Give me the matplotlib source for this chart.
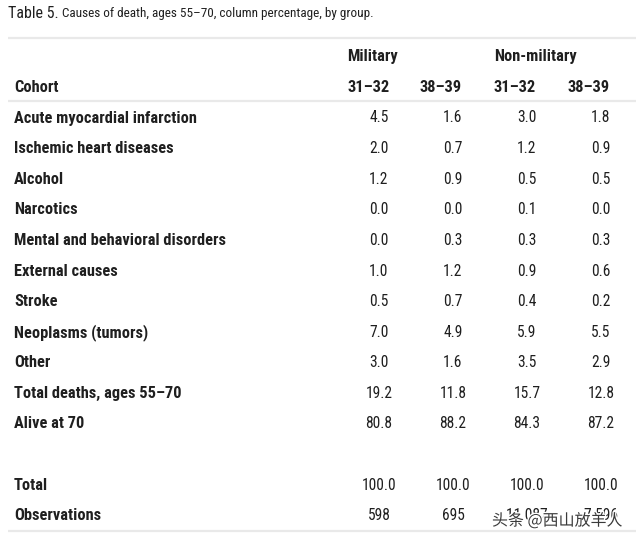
#!/usr/bin/python

"""
Table 5 redrawn with matplotlib text on a blank axes
"""

from matplotlib import pyplot as plt
from matplotlib import font_manager
import matplotlib.patheffects as pe

# table content
causes = [
    "Acute myocardial infarction",
    "Ischemic heart diseases",
    "Alcohol",
    "Narcotics",
    "Mental and behavioral disorders",
    "External causes",
    "Stroke",
    "Neoplasms (tumors)",
    "Other",
    "Total deaths, ages 55\u201370",
    "Alive at 70",
]
mil_31 = [4.5, 2.0, 1.2, 0.0, 0.0, 1.0, 0.5, 7.0, 3.0, 19.2, 80.8]
mil_38 = [1.6, 0.7, 0.9, 0.0, 0.3, 1.2, 0.7, 4.9, 1.6, 11.8, 88.2]
non_31 = [3.0, 1.2, 0.5, 0.1, 0.3, 0.9, 0.4, 5.9, 3.5, 15.7, 84.3]
non_38 = [1.8, 0.9, 0.5, 0.0, 0.3, 0.6, 0.2, 5.5, 2.9, 12.8, 87.2]

totals = [100.0, 100.0, 100.0, 100.0]
observations = [598, 695, 11087, 7596]

groups = ["Military", "Non-military"]
cohorts = ["31\u201332", "38\u201339", "31\u201332", "38\u201339"]

title_bold = "Table 5."
title_rest = "Causes of death, ages 55\u201370, column percentage, by group."
watermark = "头条 @西山放羊人"


def pick_font(names):
    have = {f.name for f in font_manager.fontManager.ttflist}
    for n in names:
        if n in have:
            return n
    return "DejaVu Sans"


FONT = pick_font(["Liberation Sans Narrow", "Roboto Condensed", "Open Sans Condensed",
                  "Noto Sans Condensed", "Liberation Sans"])
INK = "#1f1f1f"
RULE = "#e9e9e9"
BOLD_FS = 11.8
NUM_FS = 11.2

fig = plt.figure(figsize=(6.4, 5.43), dpi=100)
ax = fig.add_axes([0, 0, 1, 1])
ax.set_xlim(0, 640)
ax.set_ylim(543, 0)
ax.axis("off")

# title
t = ax.text(8, 13, title_bold, fontsize=11.5, family=FONT, color=INK, va="center")
fig.canvas.draw()
bb = t.get_window_extent().transformed(ax.transData.inverted())
ax.text(bb.x1 + 3, 13.5, title_rest, fontsize=9.5, family=FONT, color=INK, va="center")

# rules
for y in [38, 101, 531]:
    ax.plot([8, 636], [y, y], color=RULE, lw=1.6, solid_capstyle="butt")

# header
head_x = [347, 420, 494, 568]
ax.text(head_x[0], 56, groups[0], fontsize=BOLD_FS, family=FONT, weight="bold",
        color=INK, va="center")
ax.text(head_x[2], 56, groups[1], fontsize=BOLD_FS, family=FONT, weight="bold",
        color=INK, va="center")
ax.text(14, 87, "Cohort", fontsize=BOLD_FS, family=FONT, weight="bold", color=INK,
        va="center")
for x, c in zip(head_x, cohorts):
    ax.text(x, 87, c, fontsize=BOLD_FS, family=FONT, weight="bold", color=INK, va="center")

# body
val_x = [379, 453, 527, 601]
row_y0 = 118
step = 30.6
for i, cause in enumerate(causes):
    y = row_y0 + i * step
    ax.text(14, y, cause, fontsize=BOLD_FS, family=FONT, weight="bold", color=INK,
            va="center")
    for x, col in zip(val_x, [mil_31, mil_38, non_31, non_38]):
        ax.text(x, y, f"{col[i]:.1f}", fontsize=NUM_FS, family=FONT, color=INK,
                ha="center", va="center")

y_tot = 485
y_obs = 516
ax.text(14, y_tot, "Total", fontsize=BOLD_FS, family=FONT, weight="bold", color=INK,
        va="center")
ax.text(14, y_obs, "Observations", fontsize=BOLD_FS, family=FONT, weight="bold", color=INK,
        va="center")
for x, v, n in zip(val_x, totals, observations):
    ax.text(x, y_tot, f"{v:.1f}", fontsize=NUM_FS, family=FONT, color=INK,
            ha="center", va="center")
    ax.text(x, y_obs, f"{n:,}".replace(",", " "), fontsize=NUM_FS, family=FONT, color=INK,
            ha="center", va="center")

# watermark on top
ax.text(492, 521, watermark, fontsize=11.5, family=["Noto Sans CJK SC", "DejaVu Sans"],
        color="#3a3a3a", va="center",
        path_effects=[pe.withStroke(linewidth=2, foreground="white")])

fig.savefig("out.png", dpi=100)
